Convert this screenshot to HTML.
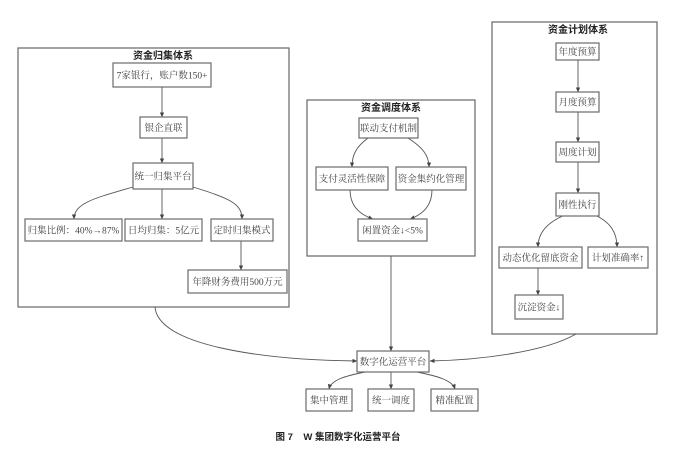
<!DOCTYPE html>
<html><head><meta charset="utf-8">
<style>
html,body{margin:0;padding:0;background:#fff;}
svg{display:block;}
.box{fill:#fff;stroke:#6a6a6a;stroke-width:1.2;}
.grp{fill:#fff;stroke:#666;stroke-width:1.2;}
.t{font-family:"Liberation Serif","Noto Serif CJK SC",serif;font-size:9.5px;fill:#444;text-anchor:middle;}
.h{font-family:"Liberation Sans","Noto Sans CJK SC",sans-serif;font-size:10px;font-weight:bold;fill:#222;text-anchor:middle;}
.ln{fill:none;stroke:#555;stroke-width:0.9;}
</style></head><body>
<svg width="683" height="452" viewBox="0 0 683 452" xmlns="http://www.w3.org/2000/svg">
<defs>
<marker id="a" viewBox="0 0 8 8" refX="7.5" refY="4" markerWidth="5" markerHeight="5" orient="auto" markerUnits="userSpaceOnUse">
<path d="M0,0.5 L8,4 L0,7.5 z" fill="#444"/>
</marker>
</defs>
<rect width="683" height="452" fill="#fff"/>

<!-- group boxes -->
<rect class="grp" x="18" y="48" width="271" height="259"/>
<rect class="grp" x="307" y="100" width="168" height="156"/>
<rect class="grp" x="492" y="22" width="165" height="312"/>

<text class="h" x="163" y="59">资金归集体系</text>
<text class="h" x="391" y="111">资金调度体系</text>
<text class="h" x="578" y="33">资金计划体系</text>

<!-- left connectors -->
<path class="ln" d="M162,87 L162,117" marker-end="url(#a)"/>
<path class="ln" d="M162,138 L162,163" marker-end="url(#a)"/>
<path class="ln" d="M162,189 L162,219" marker-end="url(#a)"/>
<path class="ln" d="M133,187 C95,198 74,203 74,219" marker-end="url(#a)"/>
<path class="ln" d="M193,187 C228,198 242,203 242,219" marker-end="url(#a)"/>
<path class="ln" d="M241,241 L241,270" marker-end="url(#a)"/>

<!-- middle connectors -->
<path class="ln" d="M368,138 C356,147 352,155 352,167" marker-end="url(#a)"/>
<path class="ln" d="M408,138 C422,147 429,155 429,167" marker-end="url(#a)"/>
<path class="ln" d="M350,190 C350,205 358,214 373,219" marker-end="url(#a)"/>
<path class="ln" d="M432,190 C432,205 424,214 410,219" marker-end="url(#a)"/>

<!-- right connectors -->
<path class="ln" d="M578,60 L578,92" marker-end="url(#a)"/>
<path class="ln" d="M578,112 L578,142" marker-end="url(#a)"/>
<path class="ln" d="M578,162 L578,193" marker-end="url(#a)"/>
<path class="ln" d="M565,215 C548,222 538,232 538,247" marker-end="url(#a)"/>
<path class="ln" d="M595,215 C610,222 617,232 617,247" marker-end="url(#a)"/>
<path class="ln" d="M538,268 L538,295" marker-end="url(#a)"/>

<!-- to platform -->
<path class="ln" d="M391,256 L391,351" marker-end="url(#a)"/>
<path class="ln" d="M155,307 C158,345 260,360 357,361" marker-end="url(#a)"/>
<path class="ln" d="M576,334 C545,352 480,360 430,361" marker-end="url(#a)"/>

<!-- platform outputs -->
<path class="ln" d="M365,372 C345,376 331,380 329,389" marker-end="url(#a)"/>
<path class="ln" d="M391,372 L391,389" marker-end="url(#a)"/>
<path class="ln" d="M417,372 C437,376 452,380 455,389" marker-end="url(#a)"/>

<!-- left nodes -->
<rect class="box" x="113" y="63" width="98" height="24"/>
<text class="t" x="162" y="78.5">7家银行，账户数150+</text>
<rect class="box" x="140" y="117" width="47" height="21"/>
<text class="t" x="163.5" y="131">银企直联</text>
<rect class="box" x="133" y="163" width="60" height="26"/>
<text class="t" x="163" y="179.5">统一归集平台</text>
<rect class="box" x="25" y="219" width="97" height="22"/>
<text class="t" x="73.5" y="233.5">归集比例：40%→87%</text>
<rect class="box" x="125" y="219" width="77" height="22"/>
<text class="t" x="163.5" y="233.5">日均归集：5亿元</text>
<rect class="box" x="211" y="219" width="62" height="22"/>
<text class="t" x="242" y="233.5">定时归集模式</text>
<rect class="box" x="188" y="270" width="99" height="23"/>
<text class="t" x="237.5" y="285">年降财务费用500万元</text>

<!-- middle nodes -->
<rect class="box" x="359" y="118" width="59" height="20"/>
<text class="t" x="388.5" y="131.5">联动支付机制</text>
<rect class="box" x="316" y="167" width="72" height="23"/>
<text class="t" x="352" y="182">支付灵活性保障</text>
<rect class="box" x="396" y="167" width="70" height="23"/>
<text class="t" x="431" y="182">资金集约化管理</text>
<rect class="box" x="358" y="219" width="69" height="22"/>
<text class="t" x="392.5" y="233.5">闲置资金↓<5%</text>

<!-- right nodes -->
<rect class="box" x="556" y="43" width="43" height="17"/>
<text class="t" x="577.5" y="54.8">年度预算</text>
<rect class="box" x="556" y="92" width="43" height="20"/>
<text class="t" x="577.5" y="105.5">月度预算</text>
<rect class="box" x="556" y="142" width="43" height="20"/>
<text class="t" x="577.5" y="155.5">周度计划</text>
<rect class="box" x="556" y="193" width="43" height="23"/>
<text class="t" x="577.5" y="208">刚性执行</text>
<rect class="box" x="499" y="247" width="83" height="21"/>
<text class="t" x="540.5" y="261">动态优化留底资金</text>
<rect class="box" x="588" y="247" width="60" height="21"/>
<text class="t" x="618" y="261">计划准确率↑</text>
<rect class="box" x="515" y="295" width="48" height="24"/>
<text class="t" x="539" y="310.5">沉淀资金↓</text>

<!-- bottom -->
<rect class="box" x="357" y="351" width="72" height="21"/>
<text class="t" x="393" y="365">数字化运营平台</text>
<rect class="box" x="306" y="389" width="46" height="22"/>
<text class="t" x="329" y="403.5">集中管理</text>
<rect class="box" x="368" y="389" width="46" height="22"/>
<text class="t" x="391" y="403.5">统一调度</text>
<rect class="box" x="431" y="389" width="47" height="22"/>
<text class="t" x="454.5" y="403.5">精准配置</text>

<text class="h" x="338" y="440" style="font-size:9.5px;white-space:pre;" xml:space="preserve">图 7    W 集团数字化运营平台</text>
</svg>
</body></html>
